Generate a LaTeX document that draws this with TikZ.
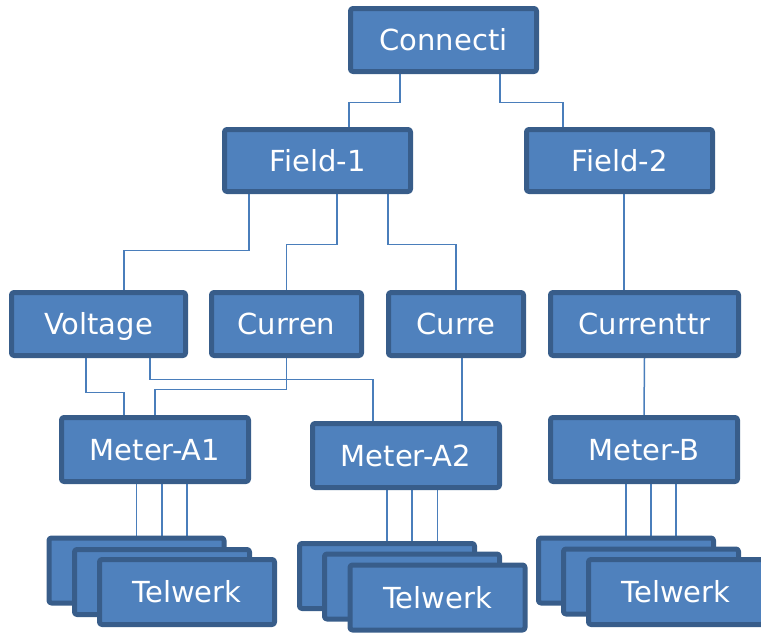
\documentclass[tikz,border=0pt]{standalone}
\usepackage{fontspec}
\setmainfont{DejaVu Sans}
\usetikzlibrary{backgrounds}
\definecolor{boxfill}{HTML}{4F81BD}
\definecolor{boxline}{HTML}{385D8A}
\definecolor{linkcol}{HTML}{4A7EBB}

\begin{document}
\begin{tikzpicture}[x=1pt, y=-1pt, line join=round,
    box/.style={draw=boxline, fill=boxfill, line width=5pt, rounded corners=2.5pt,
      text=white, inner sep=0pt, minimum width=186pt, minimum height=63pt,
      text height=21pt, text depth=0pt,
      font=\fontsize{29}{30}\selectfont},
    cnt/.style={box, minimum width=175pt, minimum height=65pt},
    link/.style={draw=linkcol, line width=1.5pt}]
  \useasboundingbox (0,0) rectangle (761,635);
  \clip (0,0) rectangle (761,635);
  % top levels
  \node[box] (con) at (443.5,40) {Connecti};
  \node[box, minimum height=62pt] (f1) at (317.5,160.5) {Field-1};
  \node[box, minimum height=62pt] (f2) at (619.5,160.5) {Field-2};
  % transformers
  \node[box, minimum width=174pt] (volt) at (98.5,324) {Voltage};
  \node[box, minimum width=150pt] (cur1) at (286.5,324) {Curren};
  \node[box, minimum width=135pt] (cur2) at (456,324) {Curre};
  \node[box, minimum width=188pt] (cur3) at (644.5,324) {Currenttr};
  % meters
  \node[box, minimum width=187pt, minimum height=64pt] (ma1) at (155,449.5) {Meter-A1};
  \node[box, minimum width=187pt, minimum height=64pt] (ma2) at (406,455.5) {Meter-A2};
  \node[box, minimum width=187pt, minimum height=64pt] (mb) at (644,449.5) {Meter-B};
  % counters
  \node[cnt] (ta1) at (136.5,570.5) {};
  \node[cnt] (ta2) at (162,582) {};
  \node[cnt] (ta3) at (187,592) {Telwerk};
  \node[cnt] (tb1) at (387,576) {};
  \node[cnt] (tb2) at (412,586.5) {};
  \node[cnt] (tb3) at (437.5,597.5) {Telwerk};
  \node[cnt] (tc1) at (626,570.5) {};
  \node[cnt] (tc2) at (651,581.5) {};
  \node[cnt] (tc3) at (676,592) {Telwerk};

  \begin{scope}[on background layer]
    \draw[link] ([xshift=-43.5pt]con.south) -- ++(0,28.5) -| ([xshift=31.5pt]f1.north);
    \draw[link] ([xshift=56.5pt]con.south) -- ++(0,28.5) -| ([xshift=-56.5pt]f2.north);
    \draw[link] ([xshift=-68.5pt]f1.south) -- ++(0,56.5) -| ([xshift=25.5pt]volt.north);
    \draw[link] ([xshift=19.5pt]f1.south) -- ++(0,50.5) -| (cur1.north);
    \draw[link] ([xshift=70.5pt]f1.south) -- ++(0,50.5) -| (cur2.north);
    \draw[link] ([xshift=4.5pt]f2.south) -- ([xshift=4.5pt]f2.south |- cur3.north);
    \draw[link] ([xshift=-12.5pt]volt.south) -- ++(0,34.5) -| ([xshift=-31pt]ma1.north);
    \draw[link] ([xshift=51.5pt]volt.south) -- ++(0,21.5) -| ([xshift=-33pt]ma2.north);
    \draw[link] (cur1.south) -- ++(0,31.5) -| (ma1.north);
    \draw[link] ([xshift=6pt]cur2.south) -- ([xshift=6pt]cur2.south |- ma2.north);
    \draw[link] (cur3.south) -- (mb.north);
    \foreach \m/\t in {ma1/ta, ma2/tb, mb/tc}
      \foreach \i in {1,2,3}
        \draw[link] (\t\i.north |- \m.south) -- (\t\i.north);
  \end{scope}
\end{tikzpicture}
\end{document}
